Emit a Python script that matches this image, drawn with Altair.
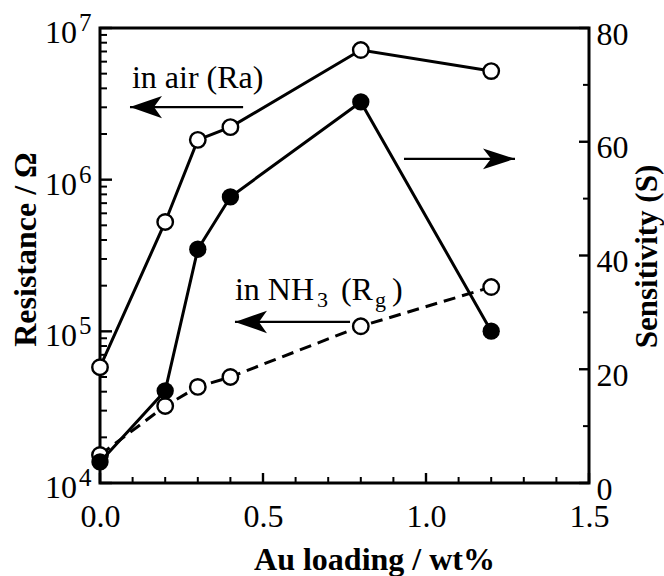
import altair as alt
import pandas as pd

# ---------------- data ----------------
au = [0.0, 0.2, 0.3, 0.4, 0.8, 1.2]
ra = [5.8e4, 5.26e5, 1.83e6, 2.22e6, 7.16e6, 5.2e6]      # in air (Ra), ohm
rg = [1.53e4, 3.22e4, 4.30e4, 5.0e4, 1.08e5, 1.96e5]      # in NH3 (Rg), ohm
sens = [3.7, 16.2, 41.1, 50.3, 67.0, 26.7]                # sensitivity (S)

x_major = [0.0, 0.5, 1.0, 1.5]
x_minor = [0.1, 0.2, 0.3, 0.4, 0.6, 0.7, 0.8, 0.9, 1.1, 1.2, 1.3, 1.4]
left_major = [1e4, 1e5, 1e6, 1e7]
left_exp = ["4", "5", "6", "7"]
left_minor = [m * 10 ** e for e in (4, 5, 6) for m in range(2, 10)]
right_major = [0, 20, 40, 60, 80]
right_minor = [10, 30, 50, 70]

# annotations (data coordinates)
air_text = ["in air (Ra)"]
air_text_x = [0.098]
air_text_y = [4.02e6]
air_arrow_x = [0.439]
air_arrow_tip = [0.092]
air_arrow_y = [3.01e6]

nh3_x = [0.414]
nh3_y = [1.61e5]
nh3_arrow_x = [0.767]
nh3_arrow_tip = [0.414]
nh3_arrow_y = [1.153e5]

s_arrow_x = [0.9325]
s_arrow_tip = [1.273]
s_arrow_y = [57.0]

# ---------------- styling ----------------
FONT = "'Liberation Serif', 'Times New Roman', Times, 'DejaVu Serif', serif"
W, H = 489, 455

df = pd.DataFrame({"au": au, "ra": ra, "rg": rg, "s": sens})

xscale = alt.Scale(domain=[0, 1.5], nice=False, zero=False)
lscale = alt.Scale(type="log", domain=[1e4, 1e7], nice=False)
rscale = alt.Scale(domain=[0, 80], nice=False, zero=True)

xaxis = alt.Axis(
    values=x_major, format=".1f", title="Au loading / wt%",
    ticks=False, tickSize=0, domain=False, grid=False,
    labelFont=FONT, labelFontSize=32, labelPadding=18, labelFlush=False,
    labelOverlap=False, labelColor="black",
    titleFont=FONT, titleFontSize=32, titleFontWeight="bold", titleColor="black",
    titleX=274, titleY=86, titleAlign="center", titleBaseline="alphabetic",
)
laxis = alt.Axis(
    labels=False, ticks=False, tickSize=0, domain=False, grid=False,
    title="Resistance / Ω", titleFont=FONT, titleFontSize=32, titleFontWeight="bold",
    titleColor="black", titleAngle=270, titleX=-75, titleY=221,
    titleAlign="center", titleBaseline="middle",
)
raxis = alt.Axis(
    orient="right", values=right_major, ticks=False, tickSize=0, domain=False, grid=False,
    labelFont=FONT, labelFontSize=32, labelPadding=7, labelOffset=6, labelColor="black",
    labelOverlap=False, labelFlush=False,
    title="Sensitivity (S)", titleFont=FONT, titleFontSize=31, titleFontWeight="bold",
    titleColor="black", titleAngle=270, titleX=58, titleY=228,
    titleAlign="center", titleBaseline="middle",
)


def X(f):
    return alt.X(f"{f}:Q", scale=xscale, axis=xaxis)


def YL(f):
    return alt.Y(f"{f}:Q", scale=lscale, axis=laxis)


def YR(f):
    return alt.Y(f"{f}:Q", scale=rscale, axis=raxis)


LEFT_HEAD = "M 0 0 L 2 -0.7 L 1.5 0 L 2 0.7 Z"
RIGHT_HEAD = "M 0 0 L -2 -0.65 L -1.5 0 L -2 0.65 Z"

base = alt.Chart(df)

ra_line = base.mark_line(color="black", strokeWidth=3).encode(x=X("au"), y=YL("ra"))
rg_line = base.mark_line(color="black", strokeWidth=3, strokeDash=[12, 7]).encode(x=X("au"), y=YL("rg"))
ra_pts = base.mark_circle(fill="white", stroke="black", strokeWidth=2.4, size=240, opacity=1).encode(x=X("au"), y=YL("ra"))
rg_pts = base.mark_circle(fill="white", stroke="black", strokeWidth=2.4, size=240, opacity=1).encode(x=X("au"), y=YL("rg"))

lminor = alt.Chart(pd.DataFrame({"v": left_minor})).mark_rule(color="black", strokeWidth=2).encode(
    y=YL("v"), x=alt.value(0), x2=alt.value(7))
lmajor = alt.Chart(pd.DataFrame({"v": left_major})).mark_rule(color="black", strokeWidth=2.4).encode(
    y=YL("v"), x=alt.value(0), x2=alt.value(12))
xminor = alt.Chart(pd.DataFrame({"v": x_minor})).mark_rule(color="black", strokeWidth=2).encode(
    x=X("v"), y=alt.value(H), y2=alt.value(H - 6))
xmajor = alt.Chart(pd.DataFrame({"v": x_major})).mark_rule(color="black", strokeWidth=2.4).encode(
    x=X("v"), y=alt.value(H), y2=alt.value(H - 10))

ldf = pd.DataFrame({"v": left_major, "e": left_exp})
llab10 = alt.Chart(ldf).mark_text(align="right", baseline="alphabetic", dy=15, font=FONT,
                                  fontSize=32, color="black").encode(
    y=YL("v"), x=alt.value(-23), text=alt.value("10"))
llabexp = alt.Chart(ldf).mark_text(align="left", baseline="alphabetic", dy=3, font=FONT,
                                   fontSize=25, color="black").encode(
    y=YL("v"), x=alt.value(-21), text="e:N")

air_df = pd.DataFrame({"x": air_text_x, "y": air_text_y, "t": air_text})
air_lbl = alt.Chart(air_df).mark_text(align="left", baseline="alphabetic", font=FONT, fontSize=32,
                                      color="black").encode(x=X("x"), y=YL("y"), text="t:N")
air_adf = pd.DataFrame({"x1": air_arrow_x, "x2": air_arrow_tip, "y": air_arrow_y})
air_rule = alt.Chart(air_adf).mark_rule(color="black", strokeWidth=2.2).encode(x=X("x1"), x2="x2:Q", y=YL("y"))
air_head = alt.Chart(air_adf).mark_point(shape=LEFT_HEAD, filled=True, color="black", size=1024,
                                         opacity=1).encode(x=X("x2"), y=YL("y"))

nh_df = pd.DataFrame({"x": nh3_x, "y": nh3_y})


def piece(text, dx, dy, size):
    return alt.Chart(nh_df).mark_text(align="left", baseline="alphabetic", font=FONT, fontSize=size,
                                      color="black", dx=dx, dy=dy).encode(
        x=X("x"), y=YL("y"), text=alt.value(text))


nh_parts = [piece("in NH", 0, 0, 32), piece("3", 82, 7, 22), piece("(R", 106, 0, 32),
            piece("g", 140, 7, 22), piece(")", 157, 0, 32)]
nh_adf = pd.DataFrame({"x1": nh3_arrow_x, "x2": nh3_arrow_tip, "y": nh3_arrow_y})
nh_rule = alt.Chart(nh_adf).mark_rule(color="black", strokeWidth=2.2).encode(x=X("x1"), x2="x2:Q", y=YL("y"))
nh_head = alt.Chart(nh_adf).mark_point(shape=LEFT_HEAD, filled=True, color="black", size=1024,
                                       opacity=1).encode(x=X("x2"), y=YL("y"))

left_group = alt.layer(
    lminor, lmajor, xminor, xmajor, llab10, llabexp,
    air_lbl, air_rule, air_head, *nh_parts, nh_rule, nh_head,
    ra_line, rg_line, ra_pts, rg_pts,
)

s_line = base.mark_line(color="black", strokeWidth=3).encode(x=X("au"), y=YR("s"))
s_pts = base.mark_circle(color="black", size=300, opacity=1).encode(x=X("au"), y=YR("s"))
rminor = alt.Chart(pd.DataFrame({"v": right_minor})).mark_rule(color="black", strokeWidth=2).encode(
    y=YR("v"), x=alt.value(W), x2=alt.value(W - 6))
rmajor = alt.Chart(pd.DataFrame({"v": right_major})).mark_rule(color="black", strokeWidth=2.4).encode(
    y=YR("v"), x=alt.value(W), x2=alt.value(W - 10))
s_adf = pd.DataFrame({"x1": s_arrow_x, "x2": s_arrow_tip, "y": s_arrow_y})
s_rule = alt.Chart(s_adf).mark_rule(color="black", strokeWidth=2.2).encode(x=X("x1"), x2="x2:Q", y=YR("y"))
s_head = alt.Chart(s_adf).mark_point(shape=RIGHT_HEAD, filled=True, color="black", size=1024,
                                     opacity=1).encode(x=X("x2"), y=YR("y"))

right_group = alt.layer(rminor, rmajor, s_rule, s_head, s_line, s_pts)

chart = alt.layer(left_group, right_group).resolve_scale(y="independent").properties(
    width=W, height=H,
    autosize=alt.AutoSizeParams(type="none"),
    padding={"left": 100, "top": 28, "right": 75, "bottom": 93},
    background="white",
).configure_view(stroke="black", strokeWidth=3)

chart.save("out.html", embed_options={"renderer": "svg", "actions": False})
